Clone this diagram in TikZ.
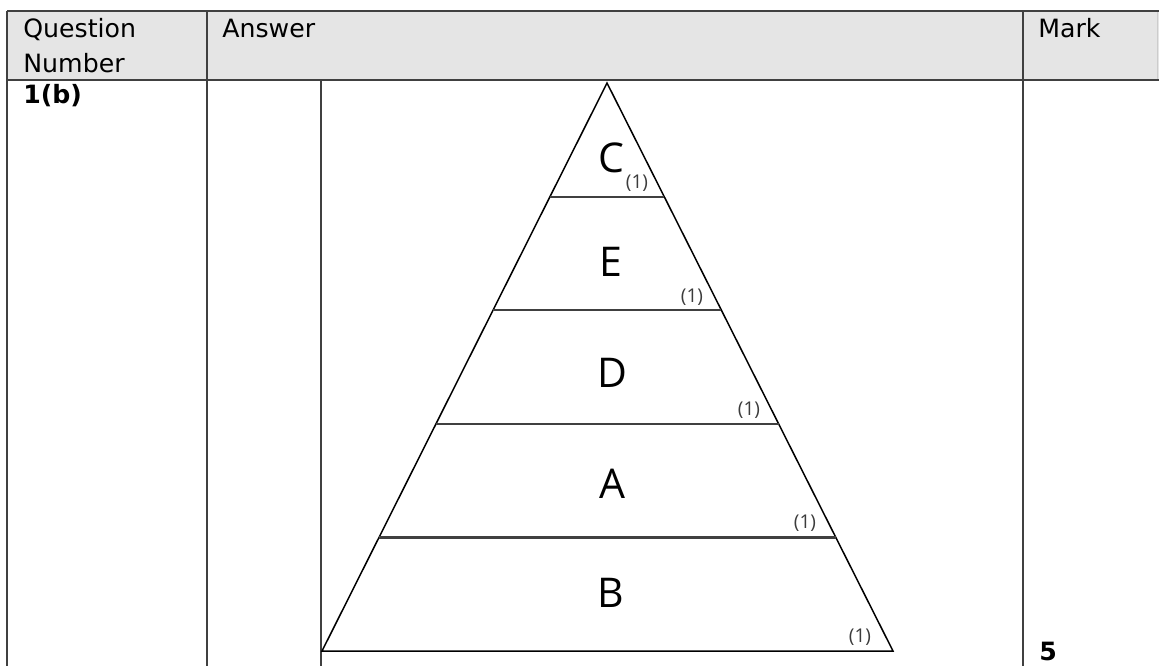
\documentclass[tikz,border=0pt]{standalone}
\usepackage{fontspec}
\setmainfont{DejaVu Sans}
\newfontfamily\pyrfont{Open Sans}
\usetikzlibrary{calc}
\definecolor{gridgrey}{RGB}{64,64,64}
\definecolor{headgrey}{RGB}{229,229,229}
\definecolor{markgrey}{RGB}{60,60,60}

\begin{document}
\begin{tikzpicture}[x=0.5pt, y=-0.5pt,
  cell/.style={draw=gridgrey, line width=0.85pt},
  hdr/.style={anchor=base west, inner sep=0pt, font=\fontsize{12.6}{14}\selectfont},
  layer/.style={font=\pyrfont\fontsize{20.5}{24}\selectfont, inner sep=0pt},
  onemark/.style={font=\pyrfont\fontsize{9.5}{11}\selectfont, text=markgrey, inner sep=0pt}]
  \useasboundingbox (0,0) rectangle (1159,666);
  % table grid
  \fill[headgrey] (7,11) rectangle (1159,80);
  \draw[gray!40, line width=0.5pt] (1157,11) -- (1157,80);
  \draw[cell] (7,11) -- (1159,11);
  \draw[cell] (7,80) -- (1159,80);
  \draw[cell] (7,11) -- (7,666);
  \draw[cell] (207,11) -- (207,666);
  \draw[cell] (1023,11) -- (1023,666);
  \draw[cell] (321,80) -- (321,666);
  % header and cell texts
  \node[hdr] (qn1) at (23,37) {Question};
  \node[hdr] (qn2) at (23,72) {Number};
  \node[hdr] (ans) at (222,37) {Answer};
  \node[hdr] (mark) at (1038,37) {Mark};
  \node[hdr, font=\fontsize{12.6}{14}\selectfont\bfseries] (qnum) at (23,103) {1(b)};
  \node[hdr, font=\fontsize{12.6}{14}\selectfont\bfseries] (total) at (1039,660) {5};
  % pyramid
  \coordinate (apex) at (607,83);
  \coordinate (bl) at (322,651);
  \coordinate (br) at (893,651);
  \draw[line width=0.75pt] (bl) -- (apex) -- (br) -- cycle;
  \foreach \f in {0.2,0.4,0.6,0.8}
    \draw[line width=1.1pt, black!75] ($(apex)!\f!(bl)$) -- ($(apex)!\f!(br)$);
  % layers
  \node[layer] (lc) at (611,158) {C};
  \node[layer] (le) at (611,262) {E};
  \node[layer] (ld) at (612,373) {D};
  \node[layer] (la) at (612,484) {A};
  \node[layer] (lb) at (611,593) {B};
  \node[onemark] (mc) at (637,183) {(1)};
  \node[onemark] (me) at (692,297) {(1)};
  \node[onemark] (md) at (749,410) {(1)};
  \node[onemark] (ma) at (805,523) {(1)};
  \node[onemark] (mb) at (860,637) {(1)};
\end{tikzpicture}
\end{document}
